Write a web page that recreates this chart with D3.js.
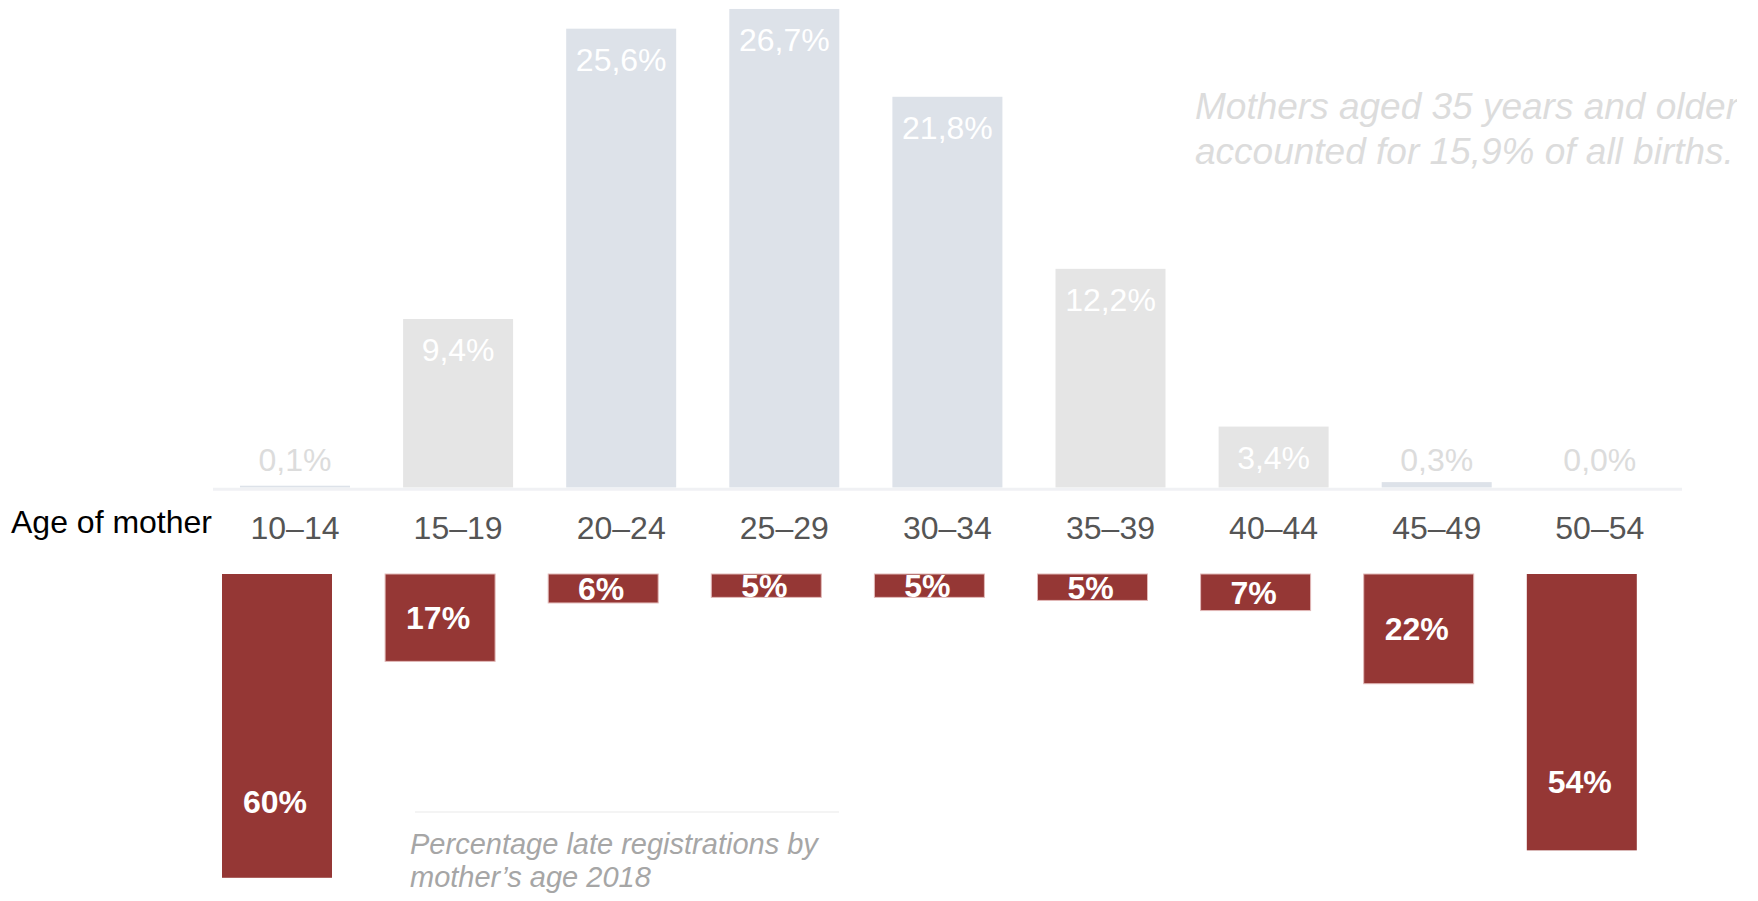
<!DOCTYPE html>
<html>
<head>
<meta charset="utf-8">
<script src="https://cdn.jsdelivr.net/npm/d3@7"></script>
<style>
  html, body { margin: 0; padding: 0; background: #fff; }
  svg { display: block; }
  text { font-family: "Liberation Sans", Arial, sans-serif; }
</style>
</head>
<body>
<svg id="chart" width="1758" height="901"></svg>
<script>
// ---- data ----
const ageGroups = ["10–14", "15–19", "20–24", "25–29", "30–34", "35–39", "40–44", "45–49", "50–54"];
const birthShare = [0.1, 9.4, 25.6, 26.7, 21.8, 12.2, 3.4, 0.3, 0.0];          // % of all births
const birthLabels = ["0,1%", "9,4%", "25,6%", "26,7%", "21,8%", "12,2%", "3,4%", "0,3%", "0,0%"];
const birthTone = ["blue", "grey", "blue", "blue", "blue", "grey", "grey", "blue", "grey"];
const lateReg = [59.8, 17.2, 5.7, 4.6, 4.6, 5.2, 7.2, 21.6, 54.4];              // % late registrations
const axisTitle = "Age of mother";
const noteLines = ["Mothers aged 35 years and older", "accounted for 15,9% of all births."];
const footLines = ["Percentage late registrations by", "mother’s age 2018"];

// ---- layout ----
const svg = d3.select("#chart");
const toneColor = { blue: "#dde2e9", grey: "#e5e5e5" };
const red = "#953735";

const x = d3.scaleBand().domain(ageGroups).range([240, 1654.8]).paddingInner(0.3256).paddingOuter(0);
const xr = d3.scaleBand().domain(ageGroups).range([222, 1636.8]).paddingInner(0.3256).paddingOuter(0);
const y = d3.scaleLinear().domain([0, 27.2]).range([487.5, 0]);
const yr = d3.scaleLinear().domain([0, 60]).range([574, 878.8]);

const births = ageGroups.map((g, i) => ({ g, v: birthShare[i], label: birthLabels[i], tone: birthTone[i] }));
const late = ageGroups.map((g, i) => ({ g, v: lateReg[i] }));

// upper bars
svg.append("g").selectAll("rect").data(births).join("rect")
  .attr("x", d => x(d.g)).attr("width", x.bandwidth())
  .attr("y", d => y(d.v)).attr("height", d => y(0) - y(d.v))
  .attr("fill", d => toneColor[d.tone]);

// baseline
svg.append("line")
  .attr("x1", 213).attr("x2", 1682)
  .attr("y1", y(0) + 1.8).attr("y2", y(0) + 1.8)
  .attr("stroke", "#f0f1f4").attr("stroke-width", 3);

// upper labels
svg.append("g").selectAll("text").data(births).join("text")
  .attr("x", d => x(d.g) + x.bandwidth() / 2)
  .attr("y", d => Math.min(y(d.v) + 42, 471))
  .attr("text-anchor", "middle")
  .attr("font-size", 32)
  .attr("fill", d => d.v >= 1 ? "#ffffff" : "#dcdcdc")
  .text(d => d.label);

// category axis labels
svg.append("g").selectAll("text").data(ageGroups).join("text")
  .attr("x", d => x(d) + x.bandwidth() / 2)
  .attr("y", 539)
  .attr("text-anchor", "middle")
  .attr("font-size", 32)
  .attr("fill", "#555555")
  .text(d => d);

svg.append("text")
  .attr("x", 11).attr("y", 533)
  .attr("font-size", 32).attr("fill", "#000")
  .text(axisTitle);

// lower bars
svg.append("g").selectAll("rect").data(late).join("rect")
  .attr("x", d => xr(d.g)).attr("width", xr.bandwidth())
  .attr("y", yr(0)).attr("height", d => yr(d.v) - yr(0))
  .attr("fill", red)
  .attr("stroke", (d, i) => (i === 0 || i === late.length - 1) ? "none" : "#e2b9b8")
  .attr("stroke-width", 1);

svg.append("g").selectAll("text").data(late).join("text")
  .attr("x", d => xr(d.g) + xr.bandwidth() / 2 - 2)
  .attr("y", d => {
    const h = yr(d.v) - yr(0);
    const c = h > 150 ? yr(0) + 0.75 * h : yr(0) + h / 2;
    return c + 11.5;
  })
  .attr("text-anchor", "middle")
  .attr("font-size", 32).attr("font-weight", "bold")
  .attr("fill", "#fff")
  .text(d => Math.round(d.v) + "%");

// annotation (top right), first line clipped at the right edge
svg.append("clipPath").attr("id", "noteclip")
  .append("rect").attr("x", 1100).attr("y", 60).attr("width", 637).attr("height", 70);
const note = svg.append("g");
note.append("text")
  .attr("x", 1195).attr("y", 119)
  .attr("clip-path", "url(#noteclip)")
  .attr("font-size", 37).attr("font-style", "italic").attr("fill", "#dcdcdc")
  .text(noteLines[0]);
note.append("text")
  .attr("x", 1195).attr("y", 164)
  .attr("font-size", 37).attr("font-style", "italic").attr("fill", "#dcdcdc")
  .text(noteLines[1]);

// footnote
svg.append("line")
  .attr("x1", 415).attr("x2", 839).attr("y1", 812).attr("y2", 812)
  .attr("stroke", "#f0f0f0").attr("stroke-width", 1.5);
svg.append("g").selectAll("text").data(footLines).join("text")
  .attr("x", 410).attr("y", (d, i) => 854 + i * 33)
  .attr("font-size", 29).attr("font-style", "italic").attr("fill", "#a6a6a6")
  .text(d => d);
</script>
</body>
</html>
